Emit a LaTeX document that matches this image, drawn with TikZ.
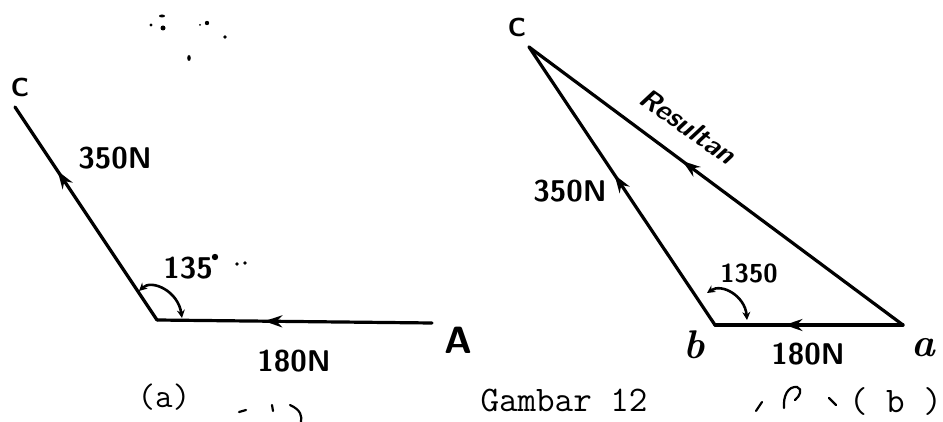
\documentclass[tikz,border=0pt]{standalone}
\usetikzlibrary{arrows.meta,decorations.markings}
\begin{document}
\begin{tikzpicture}[x=1pt,y=-1pt,
  vec/.style={line width=3.2pt,line cap=round},
  midarrow/.style={postaction={decorate},decoration={markings,
     mark=at position #1 with {\arrow{Stealth[length=18pt,width=12pt]}}}},
  anglearc/.style={line width=2.6pt,{Stealth[length=8pt,width=8pt]}-{Stealth[length=8pt,width=8pt]}},
  hand/.style={font=\sffamily\bfseries\fontsize{30}{30}\selectfont,inner sep=0pt},
  typew/.style={font=\ttfamily\fontsize{36}{36}\selectfont,inner sep=0pt},
  noise/.style={line width=2.2pt,line cap=round}]
\useasboundingbox (0,0) rectangle (943,422);
% ---------- (a) ----------
\coordinate (O) at (157,320);
\coordinate (C1) at (15,107);
\coordinate (A1) at (432,323);
\draw[vec,midarrow=0.70] (O) -- (C1);
\draw[vec,midarrow=0.61] (A1) -- (O);
\draw[anglearc] (139,291) .. controls (152,279) and (178,291) .. (182,318);
\node[hand,font=\sffamily\bfseries\fontsize{26}{26}\selectfont] (lC1) at (20,87) {C};
\node[hand,font=\sffamily\bfseries\fontsize{38}{38}\selectfont] (lA1) at (458,340) {A};
\node[hand] (l350a) at (115,158) {350N};
\node[hand] (l180a) at (294,361) {180N};
\node[hand] (l135a) at (188,268) {135};
\fill (215,257) circle (3.2pt);
\fill (237,264) circle (1.8pt) (245,263) circle (1.8pt);
\node[typew,font=\ttfamily\fontsize{34}{34}\selectfont] (la) at (164,397) {(a)};
% ---------- (b) ----------
\coordinate (c) at (529,47);
\coordinate (b) at (715,325);
\coordinate (a) at (903,325);
\draw[vec,midarrow=0.54] (b) -- (c);
\draw[vec,midarrow=0.59] (a) -- (c);
\draw[vec,midarrow=0.63] (a) -- (b);
\draw[anglearc] (707,293) .. controls (722,283) and (745,296) .. (747,320);
\node[hand,font=\sffamily\bfseries\fontsize{26}{26}\selectfont] (lc) at (517,27) {C};
\node[hand,font=\sffamily\bfseries\itshape\fontsize{28}{28}\selectfont,rotate=-35] (lres) at (688,126) {Resultan};
\node[hand] (l350b) at (570,191) {350N};
\node[hand] (l180b) at (808,354) {180N};
\node[hand,font=\sffamily\bfseries\fontsize{26}{26}\selectfont] (l135b) at (749,273) {1350};
\node[hand,font=\bfseries\itshape\fontsize{40}{40}\selectfont] (lb) at (694,345) {b};
\node[hand,font=\bfseries\itshape\fontsize{40}{40}\selectfont] (la2) at (923,348) {a};
\node[typew] (gam) at (564,401) {Gambar 12};
\node[typew,anchor=east] (lbb) at (942,402) {( b )};
% ---------- stray marks ----------
\fill (162,16) ellipse (3pt and 1.5pt);
\fill (163,28) circle (2.5pt);
\fill (151,25) circle (1.6pt);
\fill (207,23) circle (2.2pt);
\fill (200,25) circle (1pt);
\fill (225,37) circle (1.8pt);
\fill (189,58) ellipse (1.8pt and 3pt);
\draw[noise] (239,412) -- (246,410);
\draw[noise] (272,405) -- (273,411);
\draw[noise] (290,405) .. controls (301,410) and (302,416) .. (301,422);
\draw[noise] (762,402) -- (756,411);
\draw[noise] (784,408) .. controls (783,396) and (788,386) .. (797,387) .. controls (803,389) and (800,396) .. (795,400);
\draw[noise] (829,398) -- (836,405);
\end{tikzpicture}
\end{document}
